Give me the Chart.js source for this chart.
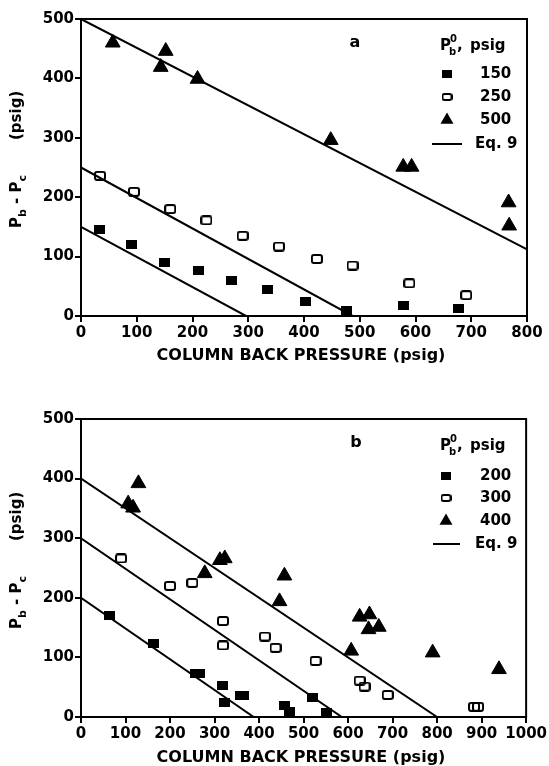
<!DOCTYPE html>
<html><head><meta charset="utf-8">
<script src="https://cdn.jsdelivr.net/npm/chart.js@4.4.0/dist/chart.umd.min.js"></script>
<style>
html,body{margin:0;padding:0;background:#fff;}
#wrap{position:relative;width:549px;height:766px;overflow:hidden;}
canvas{position:absolute;left:0;}
</style></head><body>
<div id="wrap">
<canvas id="ca" width="549" height="383" style="top:0px"></canvas>
<canvas id="cb" width="549" height="383" style="top:383px"></canvas>
</div>
<script>
// ---------- data ----------
const yTickLabels = [0, 100, 200, 300, 400, 500];
const xTickLabelsA = [0, 100, 200, 300, 400, 500, 600, 700, 800];
const xTickLabelsB = [0, 100, 200, 300, 400, 500, 600, 700, 800, 900, 1000];

// panel a
const a150X = [34, 90, 149, 210, 270, 335, 402, 476, 578, 677];
const a150Y = [145, 121, 90, 76, 59, 45, 24, 9, 17, 12];
const a250X = [34, 95, 160, 225, 290, 355, 423, 487, 589, 691];
const a250Y = [236, 209, 180, 161, 135, 117, 96, 85, 55, 35];
const a500X = [57, 143, 152, 209, 448, 578, 593, 767, 768];
const a500Y = [460, 419, 446, 399, 296, 251, 251, 191, 152];
const eqA150X = [0, 296], eqA150Y = [150, 0];
const eqA250X = [0, 487], eqA250Y = [250, 0];
const eqA500X = [0, 800], eqA500Y = [500, 112];

// panel b
const b200X = [65, 162, 258, 266, 318, 323, 358, 366, 457, 469, 521, 551];
const b200Y = [171, 124, 73, 73, 53, 25, 36, 36, 19, 9, 33, 7];
const b300X = [90, 200, 250, 319, 319, 413, 437, 527, 626, 637, 689, 883, 892];
const b300Y = [266, 220, 225, 161, 120, 135, 116, 94, 61, 51, 37, 17, 17];
const b400X = [129, 106, 117, 278, 312, 323, 457, 446, 607, 626, 648, 646, 669, 790, 939];
const b400Y = [392, 358, 351, 241, 263, 266, 237, 194, 111, 168, 172, 147, 151, 108, 80];
const eqB200X = [0, 388], eqB200Y = [200, 0];
const eqB300X = [0, 586], eqB300Y = [300, 0];
const eqB400X = [0, 800], eqB400Y = [400, 0];

const legendA = ['150', '250', '500', 'Eq. 9'];
const legendB = ['200', '300', '400', 'Eq. 9'];

// ---------- helpers ----------
const FONT = '"DejaVu Sans", "Liberation Sans", sans-serif';
function pts(xs, ys) { return xs.map((x, i) => ({x: x, y: ys[i]})); }

function filledSquare(w, h) {
  const c = document.createElement('canvas'); c.width = w; c.height = h;
  const g = c.getContext('2d'); g.fillStyle = '#000'; g.fillRect(0, 0, w, h); return c;
}
function openSquare(w, h) {
  const c = document.createElement('canvas'); c.width = w; c.height = h;
  const g = c.getContext('2d'); g.strokeStyle = '#000'; g.lineWidth = 2;
  g.beginPath();
  if (g.roundRect) g.roundRect(1, 1, w - 2, h - 2, 2); else g.rect(1, 1, w - 2, h - 2);
  g.stroke(); return c;
}
const FSQ = filledSquare(11, 9);
const OSQ = openSquare(12, 10);
const FSQ_L = filledSquare(10, 8);
const OSQ_L = openSquare(11, 8);

function markerDS(data, style) {
  const d = {type: 'scatter', data: data, showLine: false, pointBackgroundColor: '#000',
    pointBorderColor: '#000', pointBorderWidth: 0, pointHoverRadius: 0};
  if (style === 'tri') { d.pointStyle = 'triangle'; d.pointRadius = 8.5; d.pointBorderWidth = 1; }
  else { d.pointStyle = style; d.pointRadius = 6; }
  return d;
}
function lineDS(data) {
  return {type: 'scatter', data: data, showLine: true, pointRadius: 0, borderColor: '#000',
    borderWidth: 2, fill: false, tension: 0};
}

function drawYTitle(ctx, baseX, startY) {
  ctx.save();
  ctx.translate(baseX, startY);
  ctx.rotate(-Math.PI / 2);
  ctx.fillStyle = '#000';
  ctx.textBaseline = 'alphabetic';
  ctx.textAlign = 'left';
  const big = 'bold 15px ' + FONT, small = 'bold 11px ' + FONT;
  let x = 0;
  ctx.font = big; ctx.fillText('P', x, 0); x += ctx.measureText('P').width;
  ctx.font = small; ctx.fillText('b', x, 5); x += ctx.measureText('b').width;
  ctx.font = big; ctx.fillText(' - ', x, 0); x += ctx.measureText(' - ').width;
  ctx.fillText('P', x, 0); x += ctx.measureText('P').width;
  ctx.font = small; ctx.fillText('c', x, 5);
  ctx.font = big; ctx.fillText('(psig)', 88, 0);
  ctx.restore();
}

function drawLegend(ctx, L) {
  ctx.save();
  ctx.fillStyle = '#000'; ctx.strokeStyle = '#000';
  ctx.font = 'bold 16px ' + FONT; ctx.textAlign = 'center'; ctx.textBaseline = 'middle';
  ctx.fillText(L.letter, L.letterX, L.letterY);
  ctx.textAlign = 'left'; ctx.textBaseline = 'alphabetic';
  ctx.font = 'bold 15px ' + FONT;
  ctx.fillText('P', L.hx, L.hy);
  const pw = ctx.measureText('P').width;
  ctx.font = 'bold 10px ' + FONT;
  ctx.fillText('0', L.hx + pw - 1, L.hy - 8);
  ctx.fillText('b', L.hx + pw - 2, L.hy + 5);
  ctx.font = 'bold 15px ' + FONT;
  ctx.fillText(',', L.hx + pw + 6, L.hy);
  ctx.fillText('psig', L.hx + 30, L.hy);
  ctx.textBaseline = 'middle';
  const mx = L.mx;
  L.rows.forEach((ry, i) => {
    if (i === 0) ctx.drawImage(FSQ_L, mx - FSQ_L.width / 2, ry - FSQ_L.height / 2);
    if (i === 1) ctx.drawImage(OSQ_L, mx - OSQ_L.width / 2, ry - OSQ_L.height / 2);
    if (i === 2) {
      const r = 7.5;
      ctx.beginPath();
      ctx.moveTo(mx, ry - r);
      ctx.lineTo(mx + r * Math.sin(2 * Math.PI / 3), ry + r / 2);
      ctx.lineTo(mx - r * Math.sin(2 * Math.PI / 3), ry + r / 2);
      ctx.closePath(); ctx.fill();
    }
    if (i === 3) {
      ctx.lineWidth = 2; ctx.beginPath();
      ctx.moveTo(L.lx0, ry); ctx.lineTo(L.lx1, ry); ctx.stroke();
    }
    ctx.fillText(L.labels[i], i === 3 ? L.tx - 5 : L.tx, ry);
  });
  ctx.restore();
}

const decor = {
  id: 'decor',
  afterDraw(chart, args, opts) {
    const ctx = chart.ctx, a = chart.chartArea;
    ctx.save();
    ctx.strokeStyle = '#000'; ctx.lineWidth = 2;
    ctx.beginPath();
    ctx.moveTo(a.left - 1, a.top); ctx.lineTo(a.right, a.top); ctx.lineTo(a.right, a.bottom + 1);
    ctx.stroke();
    ctx.fillStyle = '#000';
    ctx.font = 'bold 16px ' + FONT; ctx.textAlign = 'center'; ctx.textBaseline = 'alphabetic';
    ctx.fillText('COLUMN BACK PRESSURE (psig)', 301, opts.xTitleY);
    ctx.restore();
    drawYTitle(ctx, 21, a.bottom - 88);
    drawLegend(ctx, opts.legend);
  }
};

function makeChart(id, xMax, xTicks, topPad, xAxisH, datasets, decorOpts) {
  return new Chart(document.getElementById(id), {
    type: 'scatter',
    data: {datasets: datasets},
    plugins: [decor],
    options: {
      responsive: false, animation: false, events: [],
      devicePixelRatio: 1,
      layout: {padding: {left: 0, top: topPad, right: 22, bottom: 0}},
      plugins: {legend: {display: false}, tooltip: {enabled: false}, decor: decorOpts},
      scales: {
        x: {
          type: 'linear', min: 0, max: xMax,
          afterBuildTicks: s => { s.ticks = xTicks.map(v => ({value: v})); },
          afterFit: s => { s.height = xAxisH; },
          ticks: {color: '#000', font: {family: FONT, size: 15, weight: 'bold'}, padding: 2, maxRotation: 0, autoSkip: false,
            callback: v => String(v)},
          grid: {display: true, drawOnChartArea: false, drawTicks: true, tickLength: 6, color: '#000', lineWidth: 2},
          border: {display: true, color: '#000', width: 2}
        },
        y: {
          type: 'linear', min: 0, max: 500,
          afterBuildTicks: s => { s.ticks = yTickLabels.map(v => ({value: v})); },
          afterFit: s => { s.width = 81; },
          ticks: {color: '#000', font: {family: FONT, size: 15, weight: 'bold'}, padding: 1,
            callback: v => String(v)},
          grid: {display: true, drawOnChartArea: false, drawTicks: true, tickLength: 6, color: '#000', lineWidth: 2},
          border: {display: true, color: '#000', width: 2}
        }
      }
    }
  });
}

makeChart('ca', 800, xTickLabelsA, 19, 67, [
  lineDS(pts(eqA150X, eqA150Y)), lineDS(pts(eqA250X, eqA250Y)), lineDS(pts(eqA500X, eqA500Y)),
  markerDS(pts(a150X, a150Y), FSQ), markerDS(pts(a250X, a250Y), OSQ), markerDS(pts(a500X, a500Y), 'tri')
], {
  xTitleY: 360,
  legend: {letter: 'a', letterX: 355, letterY: 43, hx: 440, hy: 50, mx: 447, tx: 480,
    lx0: 432, lx1: 462, rows: [74, 97, 120, 144], labels: legendA}
});

makeChart('cb', 1000, xTickLabelsB, 36, 49, [
  lineDS(pts(eqB200X, eqB200Y)), lineDS(pts(eqB300X, eqB300Y)), lineDS(pts(eqB400X, eqB400Y)),
  markerDS(pts(b200X, b200Y), FSQ), markerDS(pts(b300X, b300Y), OSQ), markerDS(pts(b400X, b400Y), 'tri')
], {
  xTitleY: 379,
  legend: {letter: 'b', letterX: 356, letterY: 60, hx: 440, hy: 67, mx: 446, tx: 480,
    lx0: 433, lx1: 460, rows: [93, 115, 138, 161], labels: legendB}
});
</script>
</body></html>
